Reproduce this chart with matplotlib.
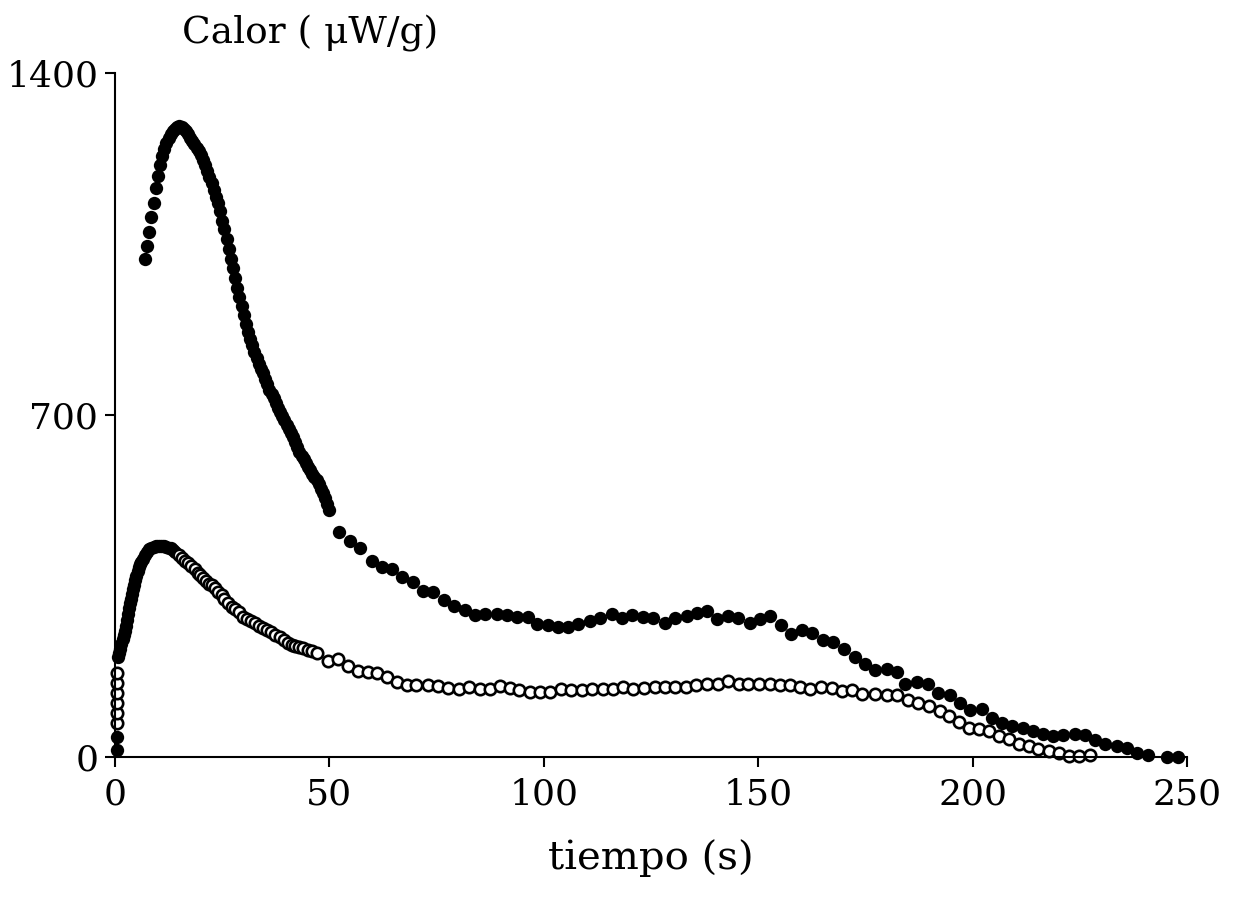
import matplotlib
matplotlib.use("Agg")
import matplotlib.pyplot as plt
import numpy as np

# Serie con círculos llenos
t_lleno = [0.4, 0.4,
           7.0, 7.5, 8.0, 8.5, 9.0, 9.5, 10.0, 10.5, 11.0, 11.5, 12.0, 12.5,
           13.0, 13.5, 14.0, 14.5, 15.0, 15.5, 16.0, 16.5, 17.0, 17.5, 18.0,
           18.5, 19.0, 19.5, 20.0, 20.5, 21.0, 21.5, 22.0, 22.5, 23.0, 23.5,
           24.0, 24.5, 25.0, 25.5, 26.0, 26.5, 27.0, 27.5, 28.0, 28.5, 29.0,
           29.5, 30.0, 30.5, 31.0, 31.5, 32.0, 32.5, 33.0, 33.5, 34.0, 34.5,
           35.0, 35.5, 36.0, 36.5, 37.0, 37.5, 38.0, 38.5, 39.0, 39.5, 40.0,
           40.5, 41.0, 41.5, 42.0, 42.5, 43.0, 43.5, 44.0, 44.5, 45.0, 45.5,
           46.0, 46.5, 47.0, 47.5, 48.0, 48.5, 49.0, 49.5, 50.0,
           52.2, 54.8, 57.1, 59.9, 62.2, 64.6, 66.9, 69.5, 71.8, 74.2, 76.7,
           79.1, 81.6, 84.0, 86.3, 89.1, 91.4, 93.8, 96.3, 98.4, 101.0, 103.3,
           105.6, 108.0, 110.8, 113.1, 115.9, 118.2, 120.6, 123.1, 125.5,
           128.3, 130.6, 133.4, 135.7, 138.1, 140.4, 143.0, 145.3, 148.1,
           150.4, 152.8, 155.3, 157.7, 160.2, 162.5, 165.1, 167.4, 170.0,
           172.6, 174.9, 177.2, 180.0, 182.4, 184.2, 187.0, 189.6, 191.9,
           194.7, 197.1, 199.4, 202.2, 204.5, 206.9, 209.2, 211.8, 214.1,
           216.4, 218.8, 221.1, 223.9, 226.2, 228.5, 230.9, 233.7, 236.0,
           238.3, 240.9, 245.3, 247.9]
q_lleno = [14, 41,
           1019, 1045, 1075, 1105, 1135, 1165, 1190, 1212, 1230, 1245, 1257,
           1267, 1275, 1281, 1286, 1289, 1291, 1290, 1286, 1281, 1275, 1268,
           1261, 1254, 1247, 1240, 1232, 1222, 1211, 1199, 1187, 1174, 1160,
           1147, 1133, 1117, 1097, 1080, 1060, 1040, 1020, 1000, 980, 960,
           942, 923, 905, 887, 870, 856, 843, 829, 816, 805, 795, 785, 774,
           763, 752, 743, 735, 725, 715, 706, 698, 689, 680, 672, 664, 654,
           645, 635, 625, 617, 610, 602, 594, 587, 580, 574, 567, 558, 549,
           540, 530, 518, 505,
           461, 443, 428, 402, 389, 384, 369, 359, 339, 338, 322,
           310, 301, 291, 293, 293, 290, 287, 287, 273, 271, 267,
           267, 272, 279, 285, 292, 285, 291, 287, 284,
           275, 284, 289, 295, 299, 282, 289, 284, 275,
           282, 288, 270, 252, 260, 254, 239, 235, 221,
           205, 190, 178, 180, 174, 149, 153, 149, 131,
           127, 110, 96, 98, 80, 69, 63, 59, 53,
           47, 43, 45, 47, 45, 35, 26, 22, 18,
           8, 4, 0, 0]

# Serie con círculos vacíos: tramo inicial (tan denso que se ve negro)
t_vacio_ini = [0.75, 1.0, 1.25, 1.5, 1.75, 2.0, 2.25, 2.5, 2.75, 3.0, 3.25,
               3.5, 3.75, 4.0, 4.25, 4.5, 4.75, 5.0, 5.25, 5.5, 5.75, 6.0,
               6.5, 7.0, 7.5, 8.0, 8.5, 9.0, 9.5, 10.0, 10.5, 11.0, 11.5,
               12.0, 12.5, 13.0, 13.5, 14.0]
q_vacio_ini = [205, 213, 222, 232, 241, 250, 258, 268, 280, 292, 304, 315,
               324, 333, 343, 352, 362, 371, 380, 388, 394, 399, 406, 414,
               420, 425, 428, 430, 431, 432, 432, 432, 431, 430, 428, 427,
               424, 420]

# Serie con círculos vacíos
t_vacio = [0.4, 0.4, 0.4, 0.4, 0.4, 0.4,
           14.8, 15.5, 16.2, 17.1, 17.8, 18.6, 19.3, 19.8, 20.5, 21.2, 22.0,
           22.5, 23.2, 24.0, 24.9, 25.5, 26.3, 27.2, 28.0, 28.8, 29.9, 30.7,
           31.6, 32.6, 33.5, 34.4, 35.4, 36.4, 37.4, 38.5, 39.4, 40.3, 41.2,
           42.0, 42.9, 43.9, 45.0, 46.0, 47.0,
           49.7, 52.1, 54.4, 56.7, 59.1, 61.0, 63.4, 65.7, 68.0, 70.3, 73.1,
           75.4, 77.7, 80.3, 82.6, 85.0, 87.5, 89.8, 92.1, 94.3, 96.8, 99.1,
           101.4, 103.9, 106.3, 108.8, 111.3, 113.7, 116.2, 118.5, 120.9,
           123.4, 125.9, 128.3, 130.7, 133.2, 135.6, 138.1, 140.7, 143.0,
           145.4, 147.7, 150.2, 152.7, 155.1, 157.5, 159.7, 162.1, 164.6,
           167.1, 169.5, 171.8, 174.1, 177.2, 180.0, 182.3, 185.0, 187.3,
           189.9, 192.4, 194.6, 196.9, 199.2, 201.6, 203.9, 206.2, 208.6,
           210.9, 213.2, 215.3, 217.9, 220.2, 222.5, 224.9, 227.4]
q_vacio = [70, 90, 110, 131, 151, 172,
           413, 408, 402, 397, 391, 384, 377, 372, 366, 360, 355,
           352, 345, 338, 331, 324, 316, 308, 302, 296, 287, 283,
           278, 274, 269, 264, 260, 255, 250, 246, 240, 234, 229,
           227, 225, 223, 218, 216, 213,
           197, 201, 187, 176, 173, 171, 164, 154, 147, 148, 147,
           145, 142, 140, 144, 140, 140, 145, 142, 137, 133, 133,
           132, 139, 137, 137, 140, 140, 140, 144, 139,
           142, 144, 144, 144, 144, 147, 150, 150, 156,
           149, 149, 150, 150, 147, 148, 143, 140, 143,
           141, 136, 138, 129, 128, 126, 126, 117, 110,
           105, 94, 83, 71, 60, 58, 53, 43, 36,
           26, 22, 17, 12, 9, 2, 2, 5]

plt.rcParams["font.family"] = ["DejaVu Serif"]

fig = plt.figure(figsize=(12.41, 9.02), dpi=100)
ax = fig.add_axes([0.0927, 0.1608, 0.8638, 0.7582])

estilo = dict(linestyle="none", marker="o", markersize=9.6, clip_on=False)
ax.plot(t_lleno, q_lleno, color="black", markerfacecolor="black",
        markeredgewidth=0, **estilo)
ax.plot(t_vacio_ini, q_vacio_ini, color="black", markerfacecolor="black",
        markeredgewidth=0, **estilo)
ax.plot(t_vacio, q_vacio, color="black", markerfacecolor="white",
        markeredgewidth=1.9, markersize=8.2, linestyle="none", marker="o",
        clip_on=False)

ax.set_xlim(0, 250)
ax.set_ylim(0, 1400)
ax.set_xticks([0, 50, 100, 150, 200, 250])
ax.set_yticks([0, 700, 1400])

for lado in ["top", "right"]:
    ax.spines[lado].set_visible(False)
for lado in ["left", "bottom"]:
    ax.spines[lado].set_linewidth(1.5)

ax.tick_params(direction="out", length=7, width=1.5, labelsize=26, pad=8)
ax.tick_params(axis="y", pad=5)

ax.set_xlabel("tiempo (s)", fontsize=29, labelpad=20)
fig.text(0.1467, 0.963, "Calor ( μW/g)", fontsize=27, ha="left", va="center")

fig.savefig("out.png", dpi=100)
